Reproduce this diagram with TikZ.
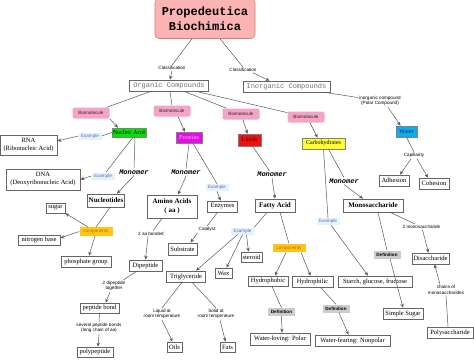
\documentclass[tikz,border=0pt]{standalone}
\usepackage{fontspec}
\setmainfont{Liberation Serif}
\setsansfont{Liberation Sans}
\setmonofont{Liberation Mono}
\usetikzlibrary{arrows.meta}
\definecolor{titlePink}{HTML}{FBB3B3}
\definecolor{titleEdge}{HTML}{C98080}
\definecolor{bioPink}{HTML}{F5A3C7}
\definecolor{exFill}{HTML}{DDF6FB}
\definecolor{exText}{HTML}{8855CC}
\definecolor{compFill}{HTML}{FFC61A}
\definecolor{compText}{HTML}{E05A00}
\definecolor{defFill}{HTML}{CCCCCC}
\definecolor{naGreen}{HTML}{00E600}
\definecolor{prMag}{HTML}{E010E0}
\definecolor{prText}{HTML}{FFA8FF}
\definecolor{liRed}{HTML}{EE1111}
\definecolor{liText}{HTML}{5A0000}
\definecolor{caYellow}{HTML}{FFFF33}
\definecolor{waCyan}{HTML}{11AAEE}
\definecolor{waText}{HTML}{003366}
\newcommand\fsz[2]{\fontsize{#1}{#2}\selectfont}
\tikzset{
  box/.style={draw=black!60, fill=white, line width=0.7pt, font=\fsz{6.5}{8}, inner sep=1pt, align=center},
  bbox/.style={box, font=\bfseries\fsz{7}{8.5}},
  cbox/.style={draw=black!50, line width=0.5pt, font=\fsz{6}{7}, inner sep=1pt},
  lab/.style={font=\sffamily\fsz{4.6}{5.6}, align=center, inner sep=1pt},
  bio/.style={lab, fill=bioPink, text=black!85, rounded corners=2pt, minimum width=37pt, minimum height=11pt},
  exl/.style={lab, fill=exFill, text=exText, minimum width=23pt, minimum height=7pt},
  compl/.style={lab, fill=compFill, text=compText, minimum width=33pt, minimum height=8.5pt},
  defl/.style={lab, font=\sffamily\bfseries\fsz{4.6}{5.6}, fill=defFill, minimum width=27pt, minimum height=8pt},
  monol/.style={font=\ttfamily\bfseries\itshape\fsz{7}{8}, inner sep=1pt},
  ttbox/.style={draw=black!60, line width=0.6pt, font=\ttfamily\fsz{7}{8}, text=black!55, inner sep=1pt, minimum height=11pt},
  ln/.style={draw=black!65, line width=0.5pt},
  ar/.style={ln, -{Stealth[length=4pt,width=3.4pt]}},
}
\begin{document}
\begin{tikzpicture}[x=1pt,y=-1pt]
\useasboundingbox[fill=white] (0,0) rectangle (474,359);
% title
\node[draw=titleEdge, fill=titlePink, rounded corners=4pt, line width=0.6pt, minimum width=100pt, minimum height=40pt, align=center, font=\ttfamily\bfseries\fsz{12}{15}] (title) at (205,18.5) {Propedeutica\\Biochimica};
\node[lab] (cls1) at (172,68) {Classification};
\node[lab] (cls2) at (243,70) {Classification};
\node[ttbox, minimum width=79pt] (org) at (169,85.5) {Organic Compounds};
\node[ttbox, minimum width=87pt] (inorg) at (286.5,86.5) {Inorganic Compounds};
\node[lab] (inlab) at (380,101) {inorganic compound\\(Polar Compound)};
\node[bio] (bio1) at (91,113) {Biomolecule};
\node[bio] (bio2) at (172,111) {Biomolecule};
\node[bio] (bio3) at (241,114) {Biomolecule};
\node[bio] (bio4) at (306,117) {Biomolecule};
% categories
\node[cbox, fill=naGreen, minimum width=32pt, minimum height=9pt] (nucleic) at (129,132.5) {Nucleic Acid};
\node[cbox, fill=prMag, text=prText, minimum width=26pt, minimum height=11pt] (proteins) at (189,137.5) {Proteins};
\node[cbox, fill=liRed, text=liText, minimum width=23pt, minimum height=12pt] (lipids) at (249.5,140) {Lipids};
\node[cbox, fill=caYellow, minimum width=43pt, minimum height=11pt] (carbs) at (323.5,143.5) {Carbohydrates};
\node[cbox, fill=waCyan, text=waText, minimum width=21pt, minimum height=11pt] (water) at (406.5,131.5) {Water};
% nucleic acid branch
\node[exl] (ex1) at (90,136) {Example};
\node[box, minimum width=57pt, minimum height=20pt] (rna) at (28.5,145) {RNA\\(Ribonucleic Acid)};
\node[exl] (ex2) at (103,176) {Example};
\node[box, minimum width=74pt, minimum height=21pt] (dna) at (43,179.5) {DNA\\(Deoxyribonucleic Acid)};
\node[monol] (mono1) at (134,172) {Monomer};
\node[bbox, minimum width=36pt, minimum height=13pt] (nucleotides) at (106,200.5) {Nucleotides};
\node[box, minimum width=19pt, minimum height=10pt] (sugar) at (55.5,208) {sugar};
\node[compl] (comp1) at (96,231.5) {components};
\node[box, minimum width=42pt, minimum height=10pt] (nitro) at (39,240) {nitrogen base};
\node[box, minimum width=50pt, minimum height=11pt] (phos) at (86,261.5) {phosphate group};
% proteins branch
\node[monol] (mono2) at (186,172.5) {Monomer};
\node[bbox, minimum width=50pt, minimum height=23pt] (amino) at (172,206.5) {Amino Acids\\( aa )};
\node[exl] (ex3) at (217,187.5) {Example};
\node[box, minimum width=30pt, minimum height=11pt] (enzymes) at (222.5,206.5) {Enzymes};
\node[lab] (catalyst) at (207,229.5) {Catalyst};
\node[box, minimum width=29pt, minimum height=12pt] (substrate) at (182.5,249) {Substrate};
\node[lab] (aa2) at (151,233.5) {2 aa bonded};
\node[box, minimum width=33pt, minimum height=11pt] (dipeptide) at (145.5,265.5) {Dipeptide};
\node[lab] (dip2) at (114,286) {2 dipeptide\\together};
\node[box, minimum width=39pt, minimum height=10pt] (peptidebond) at (99.5,308) {peptide bond};
\node[lab] (several) at (99,328) {several peptide bonds\\(long chain of aa)};
\node[box, minimum width=36pt, minimum height=10pt] (polypeptide) at (95,352) {polypeptide};
% lipids branch
\node[monol] (mono3) at (272,174.5) {Monomer};
\node[bbox, minimum width=40pt, minimum height=13pt] (fatty) at (275,205.5) {Fatty Acid};
\node[exl] (ex4) at (242.5,231) {Example};
\node[box, minimum width=39pt, minimum height=11pt] (trig) at (186,276.5) {Triglyceride};
\node[box, minimum width=17pt, minimum height=10pt] (wax) at (223.5,273) {Wax};
\node[box, minimum width=21pt, minimum height=10pt] (steroid) at (251.5,257) {steroid};
\node[lab] (liquid) at (162,314) {Liquid at\\room temperature};
\node[box, minimum width=15pt, minimum height=10pt] (oils) at (174.5,347) {Oils};
\node[lab] (solid) at (216,314) {Solid at\\room temperature};
\node[box, minimum width=15pt, minimum height=10pt] (fats) at (227.5,347) {Fats};
\node[compl] (comp2) at (289,248) {components};
\node[box, minimum width=40pt, minimum height=10pt] (hphob) at (268,281) {Hydrophobic};
\node[box, minimum width=41pt, minimum height=11pt] (hphil) at (312.5,281.5) {Hydrophilic};
\node[defl] (def1) at (281.5,312) {Definition};
\node[box, minimum width=60pt, minimum height=12pt] (wl) at (280,339) {Water-loving: Polar};
\node[defl] (def2) at (336,308.5) {Definition};
\node[box, minimum width=75pt, minimum height=11pt] (wf) at (352.5,340.5) {Water-fearing: Nonpolar};
% carbohydrates branch
\node[monol] (mono4) at (344,181) {Monomer};
\node[bbox, minimum width=60pt, minimum height=13pt] (monosacch) at (373,205.5) {Monosaccharide};
\node[exl] (ex5) at (328,221.5) {Example};
\node[box, minimum width=74pt, minimum height=11pt] (starch) at (375,281.5) {Starch, glucose, fructose};
\node[defl] (def3) at (387,254.5) {Definition};
\node[box, minimum width=40pt, minimum height=11pt] (simple) at (403,313.5) {Simple Sugar};
\node[lab] (twomono) at (421.5,227) {2 monosaccharide};
\node[box, minimum width=37pt, minimum height=11pt] (disacch) at (430.5,258.5) {Disaccharide};
\node[lab] (chains) at (446,290) {chains of\\monosaccharides};
\node[box, minimum width=46pt, minimum height=11pt] (poly) at (450,332.5) {Polysaccharide};
% water branch
\node[lab] (cap) at (414,155.5) {Capillarity};
\node[box, minimum width=30pt, minimum height=11pt] (adhesion) at (394,180.5) {Adhesion};
\node[box, minimum width=30pt, minimum height=11pt] (cohesion) at (434,183.5) {Cohesion};
% connectors
\draw[ln] ([xshift=-13pt]title.south) -- (cls1.north);
\draw[ar] (cls1.south) -- ([xshift=1pt]org.north);
\draw[ln] ([xshift=15pt]title.south) -- (cls2.north);
\draw[ar] ([xshift=10pt]cls2.south) -- ([xshift=-17pt]inorg.north);
\draw[ln] ([xshift=38pt]inorg.south) -- (inlab);
\draw[ar] ([xshift=8pt]inlab.south) -- ([xshift=-6pt]water.north);
\draw[ln] ([xshift=-18pt]org.south) -- (bio1);
\draw[ln] ([xshift=1pt]org.south) -- (bio2.north);
\draw[ln] ([xshift=15pt]org.south) -- (bio3);
\draw[ln] ([xshift=27pt]org.south) -- (bio4);
\draw[ar] (bio1.south east) -- ([xshift=-11pt]nucleic.north);
\draw[ar] ([xshift=6pt]bio2.south) -- ([xshift=-4pt]proteins.north);
\draw[ar] ([xshift=2pt]bio3.south) -- ([xshift=-2pt]lipids.north);
\draw[ar] ([xshift=4pt]bio4.south) -- ([xshift=-6pt]carbs.north);
% nucleic
\draw[ln] (nucleic.west) -- (ex1.east);
\draw[ar] (ex1.west) -- ([yshift=4pt]rna.east);
\draw[ln] ([xshift=4pt]nucleic.south) -- (ex2);
\draw[ar] (ex2.west) -- (dna.east);
\draw[ln] ([xshift=6pt]nucleic.south) -- (mono1.north);
\draw[ar] (mono1.south) -- ([xshift=11pt]nucleotides.north);
\draw[ln] ([xshift=4pt]nucleotides.south) -- (comp1.north);
\draw[ar] ([xshift=-8pt]comp1.north) -- (sugar.south east);
\draw[ar] (comp1.west) -- ([yshift=2pt]nitro.east);
\draw[ar] ([xshift=-1pt]comp1.south) -- ([xshift=3pt]phos.north);
% proteins
\draw[ln] (proteins.south) -- (mono2.north);
\draw[ar] (mono2.south) -- ([xshift=6pt]amino.north);
\draw[ln] ([xshift=4pt]proteins.south) -- (ex3.north);
\draw[ar] (ex3.south) -- ([xshift=-2pt]enzymes.north);
\draw[ln] ([xshift=-5pt]enzymes.south) -- (catalyst.north);
\draw[ar] (catalyst.south west) -- ([xshift=8pt]substrate.north);
\draw[ln] ([xshift=-10pt]amino.south) -- (aa2);
\draw[ar] ([xshift=-3pt]aa2.south) -- (dipeptide.north);
\draw[ln] ([xshift=-9pt]dipeptide.south) -- (dip2);
\draw[ar] ([xshift=-4pt]dip2.south) -- ([xshift=6pt]peptidebond.north);
\draw[ln] (peptidebond.south) -- (several.north);
\draw[ar] (several.south) -- ([xshift=3pt]polypeptide.north);
% lipids
\draw[ln] ([xshift=3pt]lipids.south) -- (mono3);
\draw[ar] (mono3.south) -- (fatty.north);
\draw[ln] ([xshift=-8pt]fatty.south) -- (ex4.north east);
\draw[ar] ([xshift=-5pt]ex4.south) -- ([xshift=10pt]trig.north);
\draw[ar] (ex4.south) -- ([xshift=3pt]wax.north);
\draw[ar] ([xshift=4pt]ex4.south) -- ([xshift=-3pt]steroid.north);
\draw[ln] ([xshift=-4pt]trig.south) -- (liquid.north);
\draw[ar] (liquid.south) -- ([xshift=-2pt]oils.north);
\draw[ln] ([xshift=6pt]trig.south) -- (solid.north);
\draw[ar] ([xshift=4pt]solid.south) -- ([xshift=-2pt]fats.north);
\draw[ln] ([xshift=5pt]fatty.south) -- (comp2.north);
\draw[ar] ([xshift=-3pt]comp2.south) -- ([xshift=7pt]hphob.north);
\draw[ar] ([xshift=12pt]comp2.south) -- ([xshift=-2pt]hphil.north);
\draw[ln] ([xshift=4pt]hphob.south) -- (def1.north);
\draw[ar] (def1.south) -- ([xshift=2pt]wl.north);
\draw[ln] ([xshift=8pt]hphil.south) -- (def2.north);
\draw[ar] ([xshift=3pt]def2.south) -- ([xshift=-4pt]wf.north);
% carbohydrates
\draw[ln] ([xshift=5pt]carbs.south) -- (mono4.north);
\draw[ar] (mono4.south) -- ([xshift=-10pt]monosacch.north);
\draw[ln] (carbs.south) -- (ex5.north);
\draw[ar] ([xshift=3pt]ex5.south) -- ([xshift=-7pt]starch.north);
\draw[ln] ([xshift=5pt]monosacch.south) -- (def3.north);
\draw[ar] ([xshift=3pt]def3.south) -- (simple.north);
\draw[ln] ([xshift=17pt]monosacch.south) -- (twomono);
\draw[ar] ([xshift=1pt]twomono.south) -- ([xshift=-2pt]disacch.north);
\draw[ln] ([xshift=-2pt]poly.north) -- (chains.south);
\draw[ar] ([xshift=-6pt]chains.north) -- ([xshift=4pt]disacch.south);
% water
\draw[ln] (water.south) -- (cap.north);
\draw[ar] ([xshift=-3pt]cap.south) -- ([xshift=6pt]adhesion.north);
\draw[ar] ([xshift=3pt]cap.south) -- ([xshift=-6pt]cohesion.north);
\end{tikzpicture}
\end{document}
